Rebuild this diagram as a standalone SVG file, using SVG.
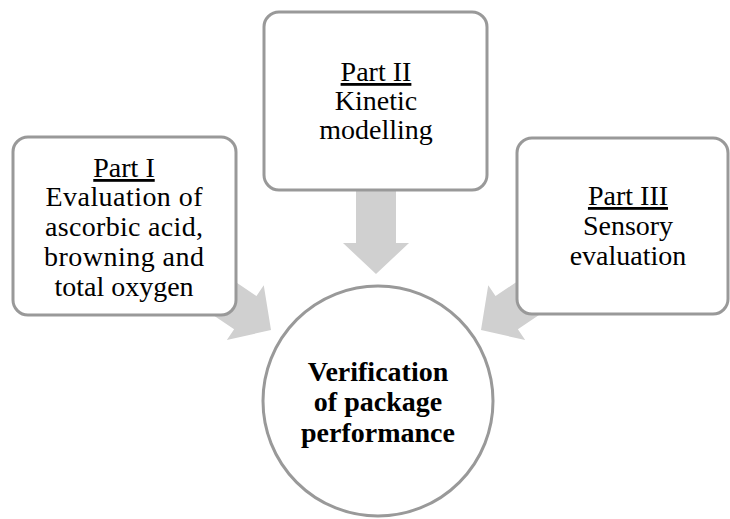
<svg xmlns="http://www.w3.org/2000/svg" width="730" height="519" viewBox="0 0 730 519">
<defs>
<style>
.box{fill:#fff;stroke:#999;stroke-width:3}
.arr{fill:#d0d0d0}
.t{font-family:"Liberation Serif","Times New Roman",serif;font-size:28px;fill:#000;text-anchor:middle}
.b{font-weight:bold}
.u{text-decoration:underline}
</style>
<path id="arrowShape" d="M0,0 L-31,-33 L-31,-20 L-90,-20 L-90,20 L-31,20 L-31,33 Z"/>
</defs>
<rect width="730" height="519" fill="#fff"/>
<g id="connectors">
<use href="#arrowShape" class="arr" transform="translate(376,274) rotate(90)"/>
<use href="#arrowShape" class="arr" transform="translate(271,330) rotate(34)"/>
<use href="#arrowShape" class="arr" transform="translate(481,330) rotate(146)"/>
</g>
<g id="part1">
<rect class="box" x="13" y="137" width="223" height="178" rx="15"/>
<text class="t" x="124" y="177"><tspan class="u">Part I</tspan></text>
<text class="t" x="124" y="206" textLength="157" lengthAdjust="spacing">Evaluation of</text>
<text class="t" x="124" y="236" textLength="158" lengthAdjust="spacing">ascorbic acid,</text>
<text class="t" x="124" y="266" textLength="160" lengthAdjust="spacing">browning and</text>
<text class="t" x="124" y="296">total oxygen</text>
</g>
<g id="part2">
<rect class="box" x="264" y="12" width="223" height="178" rx="15"/>
<text class="t" x="376" y="81"><tspan class="u">Part II</tspan></text>
<text class="t" x="376" y="110">Kinetic</text>
<text class="t" x="376" y="139">modelling</text>
</g>
<g id="part3">
<rect class="box" x="517" y="138" width="211" height="176" rx="15"/>
<text class="t" x="628" y="205"><tspan class="u">Part III</tspan></text>
<text class="t" x="628" y="235">Sensory</text>
<text class="t" x="628" y="265">evaluation</text>
</g>
<g id="verification">
<circle class="box" cx="378" cy="401" r="115"/>
<text class="t b" x="378" y="381">Verification</text>
<text class="t b" x="378" y="411">of package</text>
<text class="t b" x="378" y="442">performance</text>
</g>
</svg>
